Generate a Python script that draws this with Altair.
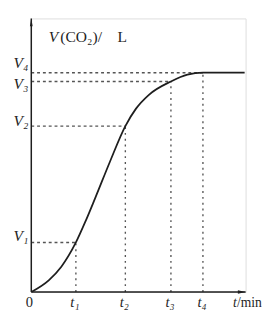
import altair as alt
import pandas as pd

# ---- data (1 unit ~ 1 px) ----
t_names = ["t₁", "t₂", "t₃", "t₄"]
V_names = ["V₁", "V₂", "V₃", "V₄"]
t_vals = [46, 97, 144, 177]
V_vals = [51, 171, 217, 226]
curve_t = [0, 18, 31, 46, 56, 66, 81, 97, 108, 121, 144, 161, 177, 194, 220]
curve_V = [0, 12, 26, 51, 73, 97, 134, 171, 189, 203, 217, 224, 226, 226, 226]
x_max = 221
y_max = 282
y_title = "V"
y_title_rest = "(CO₂)/"
y_title_unit = "L"
x_title = "t"
x_title_rest = "/min"
origin_label = "0"

# styling
V_label_dy = [-2, 0, 8, -5]
serif = "Liberation Serif"
ink = "#1e1e1e"
dash_col = "#555555"

xs = alt.Scale(domain=[0, x_max], nice=False, zero=False)
ys = alt.Scale(domain=[0, y_max], nice=False, zero=False)

curve_df = pd.DataFrame({"t": curve_t, "V": curve_V})
marks_df = pd.DataFrame({"t": t_vals, "V": V_vals, "tn": t_names, "Vn": V_names,
                         "z": [0] * len(t_vals)})
axis_df = pd.DataFrame({"x0": [0], "y0": [0], "xm": [x_max], "ym": [y_max]})

X = lambda f: alt.X(f, type="quantitative", scale=xs, axis=None)
Y = lambda f: alt.Y(f, type="quantitative", scale=ys, axis=None)

# axes
x_axis = alt.Chart(axis_df).mark_rule(color=ink, strokeWidth=1.5).encode(
    x=X("x0"), x2="xm", y=Y("y0"))
y_axis = alt.Chart(axis_df).mark_rule(color=ink, strokeWidth=1.5).encode(
    x=X("x0"), y=Y("y0"), y2="ym")
x_arrow = alt.Chart(axis_df).transform_calculate(ax="datum.xm - 4").mark_point(
    shape="M-1,-0.45L1,0L-1,0.45Z", filled=True, color=ink, opacity=1, size=64
).encode(x=X("ax"), y=Y("y0"))
y_arrow = alt.Chart(axis_df).transform_calculate(ay="datum.ym - 4").mark_point(
    shape="M-0.35,1L0,-1L0.35,1Z", filled=True, color=ink, opacity=1, size=64
).encode(x=X("x0"), y=Y("ay"))

# dashed guides
h_dash = alt.Chart(marks_df).mark_rule(color=dash_col, strokeWidth=1.4, strokeDash=[3, 3]).encode(
    x=X("z"), x2="t", y=Y("V"))
v_dash = alt.Chart(marks_df).mark_rule(color=dash_col, strokeWidth=1.4, strokeDash=[2, 4]).encode(
    x=X("t"), y=Y("z"), y2="V")

# curve
curve = alt.Chart(curve_df).mark_line(color=ink, strokeWidth=1.8, interpolate="monotone").encode(
    x=X("t"), y=Y("V"))

# labels
t_labels = alt.Chart(marks_df).mark_text(
    font=serif, fontStyle="italic", fontSize=15, color=ink, align="center",
    baseline="alphabetic", dx=-1, dy=16
).encode(x=X("t"), y=Y("z"), text="tn:N")

V_layers = []
for i, dyv in enumerate(V_label_dy):
    V_layers.append(
        alt.Chart(marks_df.iloc[[i]]).mark_text(
            font=serif, fontStyle="italic", fontSize=16, color=ink, align="right",
            baseline="alphabetic", dx=-3, dy=dyv
        ).encode(x=X("z"), y=Y("V"), text="Vn:N")
    )

lab_df = pd.DataFrame({"x0": [0], "y0": [0], "xm": [x_max], "ym": [y_max],
                       "o": [origin_label], "yt": [y_title], "yr": [y_title_rest],
                       "yu": [y_title_unit], "xt": [x_title], "xr": [x_title_rest]})
origin = alt.Chart(lab_df).mark_text(font=serif, fontSize=15, color=ink, align="center",
                                     baseline="alphabetic", dx=-2, dy=16).encode(
    x=X("x0"), y=Y("y0"), text="o:N")
yt1 = alt.Chart(lab_df).mark_text(font=serif, fontStyle="italic", fontSize=16, color=ink,
                                  align="left", baseline="alphabetic", dx=18, dy=24).encode(
    x=X("x0"), y=Y("ym"), text="yt:N")
yt2 = alt.Chart(lab_df).mark_text(font=serif, fontSize=16, color=ink,
                                  align="left", baseline="alphabetic", dx=30, dy=24).encode(
    x=X("x0"), y=Y("ym"), text="yr:N")
yt3 = alt.Chart(lab_df).mark_text(font=serif, fontSize=16, color=ink,
                                  align="left", baseline="alphabetic", dx=89, dy=24).encode(
    x=X("x0"), y=Y("ym"), text="yu:N")
xt1 = alt.Chart(lab_df).mark_text(font=serif, fontStyle="italic", fontSize=14, color=ink,
                                  align="right", baseline="alphabetic", dx=-9, dy=16).encode(
    x=X("xm"), y=Y("y0"), text="xt:N")
xt2 = alt.Chart(lab_df).mark_text(font=serif, fontSize=14, color=ink,
                                  align="left", baseline="alphabetic", dx=-9, dy=16).encode(
    x=X("xm"), y=Y("y0"), text="xr:N")

chart = alt.layer(
    h_dash, v_dash, x_axis, y_axis, x_arrow, y_arrow, curve,
    t_labels, *V_layers, origin, yt1, yt2, yt3, xt1, xt2
).properties(
    width=x_max, height=y_max,
    autosize=alt.AutoSizeParams(type="none"),
    padding={"left": 24, "top": 6, "right": 20, "bottom": 18},
).configure_view(stroke=None).configure(background="white")

chart.save("out.html", embed_options={"renderer": "svg", "actions": False})
